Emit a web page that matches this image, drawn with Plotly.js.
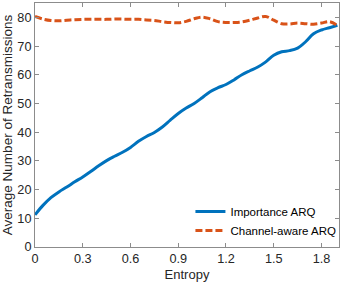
<!DOCTYPE html>
<html>
<head>
<meta charset="utf-8">
<script src="https://cdn.plot.ly/plotly-3.0.1.min.js"></script>
<style>html,body{margin:0;padding:0;background:#fff;}#chart{width:344px;height:285px;}</style>
</head>
<body>
<div id="chart"></div>
<script>
const entropy = [0,0.05,0.1,0.15,0.2,0.25,0.3,0.35,0.4,0.45,0.5,0.55,0.6,0.65,0.7,0.75,0.8,0.85,0.9,0.95,1.0,1.05,1.1,1.15,1.2,1.25,1.3,1.35,1.4,1.45,1.5,1.55,1.6,1.65,1.7,1.75,1.8,1.85,1.9];
const importanceARQ = [11.2,14.5,17.2,19.2,20.9,22.7,24.4,26.3,28.3,30.1,31.6,33.0,34.7,36.8,38.5,39.9,41.8,44.2,46.5,48.4,50.0,52.0,54.1,55.5,56.6,58.2,60.0,61.4,62.7,64.5,66.8,68.0,68.4,69.3,71.5,74.3,75.6,76.4,77.2];
const channelAwareARQ = [80.3,79.4,78.9,78.8,79.0,79.2,79.3,79.3,79.3,79.3,79.4,79.4,79.3,79.3,79.1,78.9,78.5,78.2,78.1,78.6,79.5,80.1,79.5,78.5,78.2,78.2,78.4,79.0,79.8,80.3,79.0,77.8,77.7,78.0,77.8,77.6,78.0,78.5,77.2];
const xTicks = [0,0.3,0.6,0.9,1.2,1.5,1.8];
const xTickText = ['0','0.3','0.6','0.9','1.2','1.5','1.8'];
const yTicks = [0,10,20,30,40,50,60,70,80];

const font = 'Liberation Sans, Arial, Helvetica, sans-serif';
const traces = [
  {x: entropy, y: importanceARQ, type: 'scatter', mode: 'lines', name: 'Importance ARQ',
   line: {color: '#0072BD', width: 3, shape: 'spline'}},
  {x: entropy, y: channelAwareARQ, type: 'scatter', mode: 'lines', name: 'Channel-aware ARQ',
   line: {color: '#D95319', width: 3, dash: '7px,3px', shape: 'spline'}}
];
const axisCommon = {
  showgrid: false, zeroline: false, showline: true, linecolor: '#8c8c8c', linewidth: 1,
  mirror: 'allticks', ticks: 'inside', ticklen: 4, tickcolor: '#8c8c8c', tickwidth: 1,
  tickfont: {family: font, size: 12.7, color: '#262626'}
};
const layout = {
  width: 344, height: 285,
  margin: {l: 35, r: 2.5, t: 3, b: 38},
  paper_bgcolor: '#fff', plot_bgcolor: '#fff',
  showlegend: true,
  legend: {x: 1.008, xanchor: 'right', y: 0.008, yanchor: 'bottom', bgcolor: 'rgba(0,0,0,0)',
           font: {family: font, size: 11.5, color: '#000'}, tracegroupgap: 0},
  xaxis: Object.assign({}, axisCommon, {range: [0, 1.91], tickvals: xTicks, ticktext: xTickText,
           title: {text: 'Entropy', font: {family: font, size: 13, color: '#262626'}, standoff: 4}}),
  yaxis: Object.assign({}, axisCommon, {range: [0, 85], tickvals: yTicks,
           title: {text: 'Average Number of Retransmissions', font: {family: font, size: 13.5, color: '#262626'}, standoff: 4}})
};
Plotly.newPlot('chart', traces, layout, {displayModeBar: false, staticPlot: true});
</script>
</body>
</html>
